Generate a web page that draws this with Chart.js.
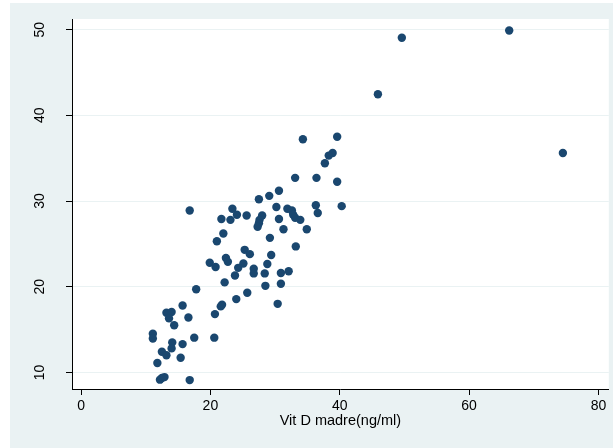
<!DOCTYPE html>
<html>
<head>
<meta charset="utf-8">
<script src="https://cdn.jsdelivr.net/npm/chart.js@4"></script>
<style>
  html, body { margin: 0; padding: 0; background: #ffffff; }
  #wrap { width: 613px; height: 448px; }
</style>
</head>
<body>
<div id="wrap"><canvas id="scatter" width="613" height="448"></canvas></div>
<script>
// Vit D madre (ng/ml) on x
const vitDMadre = [
  30.6, 29.1, 27.5, 16.8, 23.4, 24.1, 21.7, 23.1, 25.6, 30.2,
  31.9, 32.6, 32.8, 33.1, 33.9, 36.3, 36.6, 40.3, 28.0, 27.6,
  27.5, 27.3, 30.6, 31.3, 34.9, 22.0, 21.0, 29.2, 33.2, 25.3,
  26.1, 22.4, 22.7, 19.9, 20.8, 25.1, 24.3, 23.8, 28.8, 29.4,
  26.7, 26.7, 28.4, 30.9, 32.1, 22.2, 28.5, 30.9, 17.8, 25.7,
  24.0, 21.8, 21.6, 30.4, 15.7, 13.2, 14.0, 13.6, 16.6, 14.4,
  20.7, 11.1, 11.1, 17.5, 20.6, 14.1, 14.0, 15.7, 12.5, 13.2,
  15.4, 11.8, 12.2, 12.5, 12.9, 16.8,
  34.3, 39.6, 38.9, 38.3, 37.7, 33.1, 36.4, 39.6, 49.6, 66.2,
  45.9, 74.5
];

// y values in the same order
const yValues = [
  31.2, 30.6, 30.2, 28.9, 29.1, 28.4, 27.9, 27.8, 28.3, 29.3,
  29.1, 28.9, 28.4, 28.05, 27.8, 29.5, 28.6, 29.4, 28.3, 27.8,
  27.4, 27.0, 27.9, 26.7, 26.7, 26.2, 25.3, 25.7, 24.7, 24.3,
  23.8, 23.35, 22.9, 22.8, 22.3, 22.7, 22.2, 21.3, 22.65, 23.7,
  22.1, 21.55, 21.55, 21.6, 21.8, 20.5, 20.1, 20.35, 19.7, 19.3,
  18.55, 17.9, 17.7, 18.0, 17.8, 16.95, 17.05, 16.3, 16.4, 15.5,
  16.8, 14.5, 13.95, 14.05, 14.05, 13.5, 12.8, 13.3, 12.4, 12.0,
  11.7, 11.1, 9.15, 9.35, 9.45, 9.1,
  37.2, 37.5, 35.6, 35.3, 34.4, 32.7, 32.7, 32.25, 49.05, 49.9,
  42.45, 35.6
];

const xTicks = [0, 20, 40, 60, 80];
const yTicks = [10, 20, 30, 40, 50];
const xTitle = 'Vit D madre(ng/ml)';

const bgColor = '#eaf2f3';
const markerColor = '#1a476f';
const fontFamily = '"Liberation Sans", Arial, sans-serif';

const points = vitDMadre.map((x, i) => ({ x: x, y: yValues[i] }));

// Stata-like backgrounds: outer graph region and white plot region
const backdrop = {
  id: 'backdrop',
  beforeDraw(chart) {
    const { ctx, chartArea } = chart;
    ctx.save();
    ctx.fillStyle = '#ffffff';
    ctx.fillRect(0, 0, chart.width, chart.height);
    ctx.fillStyle = bgColor;
    ctx.fillRect(10, 3, chart.width - 10, chart.height - 3);
    ctx.fillStyle = '#ffffff';
    ctx.fillRect(chartArea.left, chartArea.top,
      chartArea.right - chartArea.left, chartArea.bottom - chartArea.top);
    ctx.restore();
  }
};

// vertical y tick labels, placed through the y scale
const yLabels = {
  id: 'yLabels',
  afterDraw(chart) {
    const { ctx } = chart;
    const scale = chart.scales.y;
    ctx.save();
    ctx.fillStyle = '#000000';
    ctx.font = '14px ' + fontFamily;
    ctx.textAlign = 'center';
    ctx.textBaseline = 'middle';
    yTicks.forEach(v => {
      const py = scale.getPixelForValue(v);
      ctx.save();
      ctx.translate(40, py);
      ctx.rotate(-Math.PI / 2);
      ctx.fillText(String(v), 0, 0);
      ctx.restore();
    });
    ctx.restore();
  }
};

new Chart(document.getElementById('scatter'), {
  type: 'scatter',
  data: {
    datasets: [{
      data: points,
      backgroundColor: markerColor,
      borderWidth: 0,
      pointRadius: 4.2,
      pointHoverRadius: 4.2
    }]
  },
  options: {
    responsive: false,
    animation: false,
    layout: { padding: { left: 0, top: 19, right: 3, bottom: 0 } },
    plugins: {
      legend: { display: false },
      tooltip: { enabled: false }
    },
    scales: {
      x: {
        type: 'linear',
        min: -1.4,
        max: 81.6,
        afterFit(scale) { scale.height = 59; },
        afterBuildTicks(scale) { scale.ticks = xTicks.map(v => ({ value: v })); },
        grid: {
          drawOnChartArea: false,
          drawTicks: true,
          tickLength: 6,
          tickColor: '#000000'
        },
        border: { display: true, color: '#000000', width: 1 },
        ticks: {
          color: '#000000',
          padding: 3,
          maxRotation: 0,
          font: { family: fontFamily, size: 14 }
        },
        title: {
          display: true,
          text: xTitle,
          color: '#000000',
          font: { family: fontFamily, size: 14.5 },
          padding: { top: 0, bottom: 18 }
        }
      },
      y: {
        type: 'linear',
        min: 8.06,
        max: 51.24,
        afterFit(scale) { scale.width = 72; },
        afterBuildTicks(scale) { scale.ticks = yTicks.map(v => ({ value: v })); },
        grid: {
          color: bgColor,
          lineWidth: 1,
          drawTicks: true,
          tickLength: 6,
          tickColor: '#000000'
        },
        border: { display: true, color: '#000000', width: 1 },
        ticks: { display: false }
      }
    }
  },
  plugins: [backdrop, yLabels]
});
</script>
</body>
</html>
